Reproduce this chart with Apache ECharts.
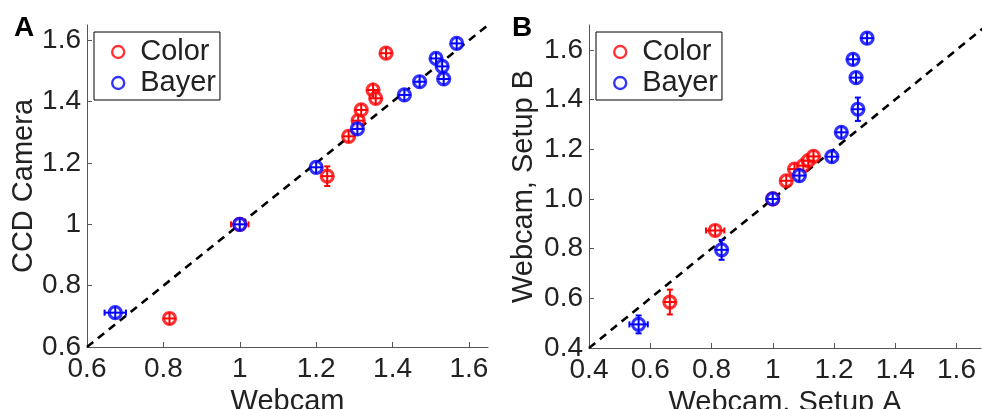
<!DOCTYPE html>
<html>
<head>
<meta charset="utf-8">
<script src="https://cdn.jsdelivr.net/npm/echarts@6/dist/echarts.min.js"></script>
<style>
  html, body { margin: 0; padding: 0; background: #fff; }
  #main { width: 982px; height: 409px; }
</style>
</head>
<body>
<div id="main"></div>
<script>
// [x, y, x error, y error]
var colorA = [
    [0.816, 0.693, 0.01, 0.01],
    [1.0, 1.0, 0.023, 0.01],
    [1.229, 1.157, 0.01, 0.032],
    [1.285, 1.287, 0.01, 0.01],
    [1.310, 1.338, 0.01, 0.012],
    [1.318, 1.373, 0.01, 0.015],
    [1.349, 1.438, 0.01, 0.024],
    [1.356, 1.411, 0.01, 0.02],
    [1.383, 1.558, 0.01, 0.015]
];
var bayerA = [
    [0.674, 0.712, 0.028, 0.01],
    [1.0, 1.0, 0.015, 0.01],
    [1.200, 1.186, 0.01, 0.01],
    [1.308, 1.311, 0.01, 0.01],
    [1.431, 1.422, 0.01, 0.01],
    [1.471, 1.465, 0.01, 0.01],
    [1.514, 1.541, 0.01, 0.01],
    [1.530, 1.515, 0.01, 0.01],
    [1.534, 1.474, 0.01, 0.01],
    [1.568, 1.590, 0.01, 0.01]
];
var colorB = [
    [0.664, 0.585, 0.01, 0.05],
    [0.812, 0.873, 0.03, 0.01],
    [1.0, 1.0, 0.01, 0.01],
    [1.044, 1.073, 0.01, 0.01],
    [1.071, 1.120, 0.01, 0.015],
    [1.100, 1.134, 0.01, 0.01],
    [1.116, 1.154, 0.01, 0.01],
    [1.133, 1.171, 0.01, 0.01]
];
var bayerB = [
    [0.562, 0.495, 0.03, 0.036],
    [0.833, 0.795, 0.01, 0.04],
    [1.0, 1.0, 0.01, 0.01],
    [1.087, 1.094, 0.01, 0.028],
    [1.193, 1.170, 0.01, 0.02],
    [1.224, 1.268, 0.01, 0.01],
    [1.278, 1.361, 0.01, 0.047],
    [1.272, 1.488, 0.01, 0.01],
    [1.262, 1.562, 0.01, 0.01],
    [1.308, 1.647, 0.01, 0.01]
];
var ticksA = [0.6, 0.8, 1.0, 1.2, 1.4, 1.6];
var ticksBx = [0.4, 0.6, 0.8, 1.0, 1.2, 1.4, 1.6];
var ticksBy = [0.4, 0.6, 0.8, 1.0, 1.2, 1.4, 1.6];
var diagA = [[0.6, 0.6], [1.65, 1.65]];
var diagB = [[0.4, 0.4], [1.7, 1.7]];

var RED = '#ff0000', BLUE = '#0000ff';
var FONT = 'Liberation Sans';
var TXT = '#222';
var AX = '#555';

function fmtShort(v) { return Math.abs(v - 1) < 1e-9 ? '1' : v.toFixed(1); }
function fmtLong(v) { return v.toFixed(1); }

function axis(grid, min, max, ticks, fmt, name, gap, isY) {
    return {
        type: 'value', gridIndex: grid, min: min, max: max,
        name: name, nameLocation: 'middle', nameGap: gap,
        nameTextStyle: { fontSize: 29, color: TXT, fontFamily: FONT },
        axisLine: { show: true, onZero: false, lineStyle: { color: AX, width: 1 } },
        axisTick: { show: true, inside: true, length: 5, customValues: ticks, lineStyle: { color: AX } },
        axisLabel: { fontSize: 28, color: TXT, fontFamily: FONT, margin: isY ? 6 : 8, customValues: ticks, formatter: fmt },
        splitLine: { show: false }
    };
}

function errRender(params, api) {
    var x = api.value(0), y = api.value(1), ex = api.value(2), ey = api.value(3);
    var c = api.coord([x, y]);
    var r = 6.5, cap = 3;
    var hx = Math.max(Math.abs(api.coord([x + ex, y])[0] - c[0]), r);
    var hy = Math.max(Math.abs(api.coord([x, y - ey])[1] - c[1]), r);
    var st = { stroke: api.visual('color'), lineWidth: 2 };
    var kids = [
        { type: 'line', shape: { x1: c[0] - hx, y1: c[1], x2: c[0] + hx, y2: c[1] }, style: st },
        { type: 'line', shape: { x1: c[0], y1: c[1] - hy, x2: c[0], y2: c[1] + hy }, style: st }
    ];
    if (hx > r + 1) {
        kids.push({ type: 'line', shape: { x1: c[0] - hx, y1: c[1] - cap, x2: c[0] - hx, y2: c[1] + cap }, style: st });
        kids.push({ type: 'line', shape: { x1: c[0] + hx, y1: c[1] - cap, x2: c[0] + hx, y2: c[1] + cap }, style: st });
    }
    if (hy > r + 1) {
        kids.push({ type: 'line', shape: { x1: c[0] - cap, y1: c[1] - hy, x2: c[0] + cap, y2: c[1] - hy }, style: st });
        kids.push({ type: 'line', shape: { x1: c[0] - cap, y1: c[1] + hy, x2: c[0] + cap, y2: c[1] + hy }, style: st });
    }
    return { type: 'group', children: kids };
}

function markers(name, grid, data, color, z) {
    return {
        name: name, type: 'scatter', xAxisIndex: grid, yAxisIndex: grid, z: z,
        symbol: 'circle', symbolSize: 12, silent: true,
        itemStyle: { color: '#fff', borderColor: color, borderWidth: 3.2 },
        data: data.map(function (d) { return [d[0], d[1]]; })
    };
}
function errors(grid, data, color, z) {
    return {
        type: 'custom', xAxisIndex: grid, yAxisIndex: grid, z: z, silent: true,
        itemStyle: { color: color }, renderItem: errRender,
        encode: { x: 0, y: 1 }, data: data
    };
}
function diag(grid, data) {
    return {
        type: 'line', xAxisIndex: grid, yAxisIndex: grid, z: 1, silent: true,
        symbol: 'none', data: data,
        lineStyle: { color: '#000', width: 2.6, type: [8, 6] }
    };
}
function legend(left) {
    return {
        left: left, top: 32, orient: 'vertical', selectedMode: false,
        data: ['Color', 'Bayer'],
        itemWidth: 34, itemHeight: 12, itemGap: 1,
        padding: [5, 4, 2, 17],
        borderColor: '#000', borderWidth: 1, backgroundColor: '#fff',
        itemStyle: { borderWidth: 2.4 },
        textStyle: { fontSize: 29, lineHeight: 30, color: TXT, fontFamily: FONT, padding: [0, 0, 0, 0] }
    };
}

var chart = echarts.init(document.getElementById('main'));
chart.setOption({
    animation: false,
    backgroundColor: '#fff',
    grid: [
        { left: 87, top: 25, width: 401, height: 322, outerBoundsMode: 'none', containLabel: false },
        { left: 589, top: 25, width: 392, height: 323, outerBoundsMode: 'none', containLabel: false }
    ],
    xAxis: [
        axis(0, 0.6, 1.65, ticksA, fmtShort, 'Webcam', 34, false),
        axis(1, 0.4, 1.68, ticksBx, fmtShort, 'Webcam, Setup A', 34, false)
    ],
    yAxis: [
        axis(0, 0.6, 1.65, ticksA, fmtShort, 'CCD Camera', 48, true),
        axis(1, 0.4, 1.7, ticksBy, fmtLong, 'Webcam, Setup B', 51, true)
    ],
    legend: [legend(94), legend(596)],
    graphic: [
        { type: 'text', left: 14, top: 14, style: { text: 'A', font: 'bold 28px "Liberation Sans"', fill: '#000' } },
        { type: 'text', left: 512, top: 14, style: { text: 'B', font: 'bold 28px "Liberation Sans"', fill: '#000' } }
    ],
    series: [
        diag(0, diagA),
        markers('Color', 0, colorA, RED, 2),
        errors(0, colorA, RED, 3),
        markers('Bayer', 0, bayerA, BLUE, 4),
        errors(0, bayerA, BLUE, 5),
        diag(1, diagB),
        markers('Color', 1, colorB, RED, 2),
        errors(1, colorB, RED, 3),
        markers('Bayer', 1, bayerB, BLUE, 4),
        errors(1, bayerB, BLUE, 5)
    ]
});
</script>
</body>
</html>
